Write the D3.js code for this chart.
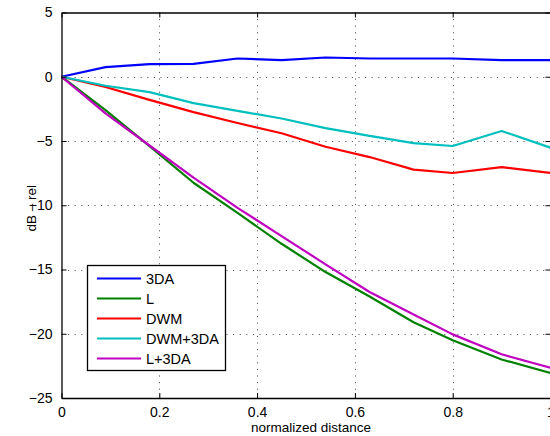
<!DOCTYPE html>
<html>
<head>
<meta charset="utf-8">
<script src="https://cdn.jsdelivr.net/npm/d3@7"></script>
<style>
  body { margin: 0; background: #fff; }
  text { font-family: "Liberation Sans", Arial, sans-serif; fill: #000; }
</style>
</head>
<body>
<div id="chart"></div>
<script>
// sample positions along the normalized distance
const xs = [0, 0.09, 0.18, 0.27, 0.36, 0.45, 0.54, 0.63, 0.72, 0.8, 0.9, 1.0]

const s3DA   = [0, 0.75, 0.98, 1.0, 1.42, 1.3, 1.5, 1.42, 1.42, 1.42, 1.3, 1.3]
const sL     = [0, -2.6, -5.4, -8.25, -10.6, -13.0, -15.2, -17.1, -19.1, -20.5, -22.0, -23.05]
const sDWM   = [0, -0.8, -1.8, -2.75, -3.6, -4.4, -5.45, -6.25, -7.23, -7.49, -7.03, -7.49]
const sDWM3  = [0, -0.7, -1.2, -2.05, -2.65, -3.25, -4.0, -4.6, -5.16, -5.39, -4.22, -5.52]
const sL3DA  = [0, -2.85, -5.35, -7.85, -10.2, -12.4, -14.6, -16.75, -18.5, -20.05, -21.6, -22.65]

const seriesNames = ['3DA', 'L', 'DWM', 'DWM+3DA', 'L+3DA']
const seriesColors = ['#0000ff', '#008000', '#ff0000', '#00bfbf', '#bf00bf']
const seriesValues = [s3DA, sL, sDWM, sDWM3, sL3DA]

const xTicks = [0, 0.2, 0.4, 0.6, 0.8, 1]
const yTicks = [5, 0, -5, -10, -15, -20, -25]

const width = 550, height = 436
const mLeft = 61.5, mRight = 550.5, mTop = 12.5, mBottom = 398

const fig = d3.select('#chart').append('svg')
    .attr('width', width).attr('height', height)

const x = d3.scaleLinear().domain([0, 1]).range([mLeft, mRight])
const y = d3.scaleLinear().domain([-25, 5]).range([mBottom, mTop])

// grid
const grid = fig.append('g').attr('stroke', '#444').attr('stroke-width', 1)
    .attr('stroke-dasharray', '1,5.6')
xTicks.slice(1, -1).forEach(t => {
    grid.append('line').attr('x1', Math.round(x(t)) + 0.5).attr('x2', Math.round(x(t)) + 0.5)
        .attr('y1', mTop).attr('y2', mBottom)
})
yTicks.slice(1, -1).forEach(t => {
    grid.append('line').attr('y1', Math.round(y(t)) + 0.5).attr('y2', Math.round(y(t)) + 0.5)
        .attr('x1', mLeft).attr('x2', mRight)
})

// lines
const line = d3.line().x((d, i) => x(xs[i])).y(d => y(d))
seriesValues.forEach((vals, k) => {
    fig.append('path').datum(vals)
        .attr('d', line)
        .attr('fill', 'none')
        .attr('stroke', seriesColors[k])
        .attr('stroke-width', 2.2)
        .attr('stroke-linejoin', 'round')
})

// axes (MATLAB style: ticks inside, on all four sides)
const tickLen = 5
const xAxisB = d3.axisBottom(x).tickValues(xTicks).tickSizeInner(-tickLen).tickSizeOuter(0)
    .tickPadding(9).tickFormat(d3.format('~g'))
const xAxisT = d3.axisTop(x).tickValues(xTicks).tickSizeInner(-tickLen).tickSizeOuter(0).tickFormat('')
const yAxisL = d3.axisLeft(y).tickValues(yTicks).tickSizeInner(-tickLen).tickSizeOuter(0)
    .tickPadding(9).tickFormat(d => d < 0 ? '\u2212' + Math.abs(d) : d)
const yAxisR = d3.axisRight(y).tickValues(yTicks).tickSizeInner(-tickLen).tickSizeOuter(0).tickFormat('')

const styleAxis = g => {
    g.select('.domain').attr('stroke', '#000').attr('stroke-width', 1.3)
    g.selectAll('.tick line').attr('stroke', '#000')
    g.selectAll('text').style('font-size', '14px').attr('fill', '#000')
}
fig.append('g').attr('transform', `translate(0,${mBottom})`).call(xAxisB).call(styleAxis)
fig.append('g').attr('transform', `translate(0,${mTop})`).call(xAxisT).call(styleAxis)
fig.append('g').attr('transform', `translate(${mLeft},0)`).call(yAxisL).call(styleAxis)
fig.append('g').attr('transform', `translate(${mRight},0)`).call(yAxisR).call(styleAxis)

// axis labels
fig.append('text').attr('x', 311).attr('y', 432)
    .attr('text-anchor', 'middle').style('font-size', '13.5px').text('normalized distance')
fig.append('text').attr('transform', `translate(36,${(mTop + mBottom) / 2 + 3}) rotate(-90)`)
    .attr('text-anchor', 'middle').style('font-size', '13.5px').text('dB \u2013 rel')

// legend
const lg = fig.append('g')
lg.append('rect').attr('x', 87.5).attr('y', 265.5).attr('width', 138).attr('height', 105)
    .attr('fill', '#fff').attr('stroke', '#000').attr('stroke-width', 1.3)
seriesNames.forEach((name, k) => {
    const yy = 278.5 + k * 20
    lg.append('line').attr('x1', 97).attr('x2', 141).attr('y1', yy).attr('y2', yy)
        .attr('stroke', seriesColors[k]).attr('stroke-width', 2.2)
    lg.append('text').attr('x', 146).attr('y', yy + 5).style('font-size', '14.5px').text(name)
})
</script>
</body>
</html>
